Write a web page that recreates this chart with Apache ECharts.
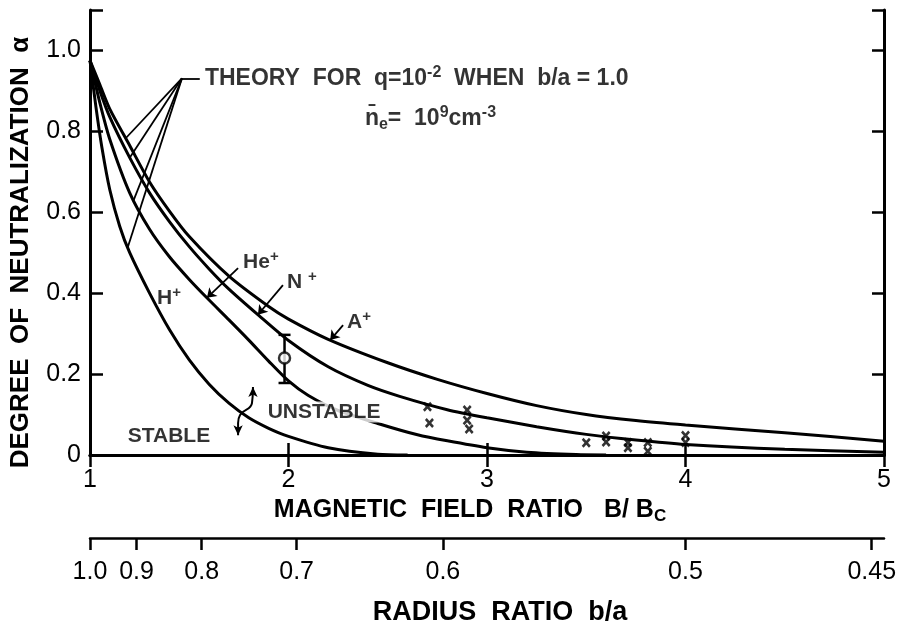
<!DOCTYPE html>
<html>
<head>
<meta charset="utf-8">
<script src="https://cdn.jsdelivr.net/npm/echarts@6/dist/echarts.min.js"></script>
<style>
  html, body { margin: 0; padding: 0; background: #fff; }
  #chart { width: 906px; height: 626px; }
</style>
</head>
<body>
<div id="chart"></div>
<script>
// theory curves: magnetic field ratio B/Bc -> degree of neutralization alpha
var hPlus = [[1, 0.975], [1.03, 0.86], [1.06, 0.76], [1.1, 0.655], [1.15, 0.565], [1.2, 0.5], [1.3, 0.4], [1.4, 0.31], [1.5, 0.235], [1.6, 0.175], [1.7, 0.128], [1.8, 0.092], [1.9, 0.066], [2.0, 0.046], [2.2, 0.018], [2.45, 0.002], [2.6, 0]]
var hePlus = [[1, 0.975], [1.05, 0.87], [1.1, 0.78], [1.2, 0.648], [1.3, 0.558], [1.4, 0.49], [1.5, 0.434], [1.6, 0.383], [1.7, 0.334], [1.8, 0.284], [1.9, 0.232], [2.0, 0.183], [2.1, 0.147], [2.25, 0.11], [2.45, 0.078], [2.65, 0.05], [2.8, 0.035], [3.0, 0.018], [3.2, 0.007], [3.45, 0.001], [3.6, 0]]
var nPlus = [[1, 0.975], [1.05, 0.9], [1.1, 0.835], [1.2, 0.735], [1.3, 0.648], [1.4, 0.577], [1.5, 0.515], [1.6, 0.46], [1.7, 0.41], [1.85, 0.345], [2.0, 0.283], [2.2, 0.218], [2.4, 0.172], [2.56, 0.145], [2.8, 0.112], [3.0, 0.092], [3.25, 0.07], [3.5, 0.051], [3.75, 0.037], [4.0, 0.026], [4.5, 0.014], [5.0, 0.007]]
var aPlus = [[1, 0.975], [1.05, 0.915], [1.1, 0.855], [1.2, 0.765], [1.3, 0.675], [1.4, 0.603], [1.5, 0.54], [1.7, 0.442], [1.9, 0.367], [2.0, 0.336], [2.2, 0.286], [2.5, 0.228], [2.75, 0.187], [3.0, 0.152], [3.25, 0.122], [3.5, 0.1], [3.75, 0.085], [4.0, 0.074], [4.5, 0.055], [5.0, 0.034]]

// measurements
var crossPoints = [[2.70, 0.119], [2.71, 0.079], [2.90, 0.111], [2.90, 0.086], [2.91, 0.064], [3.50, 0.030], [3.60, 0.047], [3.60, 0.032], [3.71, 0.031], [3.71, 0.018], [3.81, 0.031], [3.81, 0.009], [4.0, 0.048], [4.0, 0.031]]
var circlePoint = [[1.98, 0.24]]
var errorBar = [[1.98, 0.178, 0.297]]

// axis ticks
var fieldTicks = [1, 2, 3, 4, 5]
var alphaTicks = [0, 0.2, 0.4, 0.6, 0.8, 1.0]
var radiusTicks = [1.0, 0.9, 0.8, 0.7, 0.6, 0.5, 0.45]
var radiusLabels = ['1.0', '0.9', '0.8', '0.7', '0.6', '0.5', '0.45']

var FONT = 'Liberation Sans'
var INK = '#000'

// B/Bc = (b/a)^-2
var radiusAsField = radiusTicks.map(function (r) { return 1 / (r * r) })

function yAt (curve, x) {
  for (var i = 1; i < curve.length; i++) {
    if (x <= curve[i][0]) {
      var a = curve[i - 1], b = curve[i]
      return a[1] + (b[1] - a[1]) * (x - a[0]) / (b[0] - a[0])
    }
  }
  return curve[curve.length - 1][1]
}

// annotation anchors (data space)
var theoryVertex = [1.463, 0.931]
var pointerX = { a: 1.18, n: 1.2, he: 1.22, h: 1.19 }
var arrowFrom = { he: [1.746, 0.462], n: [1.972, 0.42], a: [2.275, 0.321] }
var arrowTo = { he: 1.589, n: 1.846, a: 2.21 }
var squiggle = [[1.821, 0.168], [1.816, 0.128], [1.756, 0.099], [1.746, 0.079], [1.746, 0.049]]

var textSpots = [
  { at: [1.579, 0.931], text: '{b|THEORY  FOR  q=10}{t|-2}{b|  WHEN  b/a = 1.0}' },
  { at: [2.385, 0.832], text: '{b|n\u0304}{d|e}{b|=  10}{t|9}{b|cm}{t|-3}' },
  { at: [1.771, 0.477], text: '{a|He}{s|+}' },
  { at: [1.992, 0.427], text: '{a|N }{s|+}' },
  { at: [2.295, 0.328], text: '{a|A}{s|+}' },
  { at: [1.338, 0.388], text: '{a|H}{s|+}' },
  { at: [1.19, 0.047], text: '{a|STABLE}' },
  { at: [1.88, 0.106], text: '{w|UNSTABLE}' }
]

function seg (p, q, tip) {
  return [{ coord: p, symbol: 'none' }, { coord: q, symbol: tip ? 'arrow' : 'none' }]
}

function curveSeries (name, data, marks) {
  return {
    name: name,
    type: 'line',
    data: data,
    smooth: 0.25,
    showSymbol: false,
    silent: true,
    animation: false,
    lineStyle: { color: INK, width: 3 },
    markLine: {
      silent: true,
      animation: false,
      symbolSize: 9,
      lineStyle: { color: INK, width: 1.8, type: 'solid' },
      label: { show: false },
      data: marks
    },
    z: 3
  }
}

var chart = echarts.init(document.getElementById('chart'))

var tickLabel = { color: INK, fontFamily: FONT, fontSize: 25 }
var bold = function (size) { return { fontFamily: FONT, fontWeight: 'bold', fontSize: size, color: INK } }

chart.setOption({
  backgroundColor: '#fff',
  animation: false,
  grid: { left: 90, right: 22, top: 10, bottom: 171, outerBoundsMode: 'none', containLabel: false },
  xAxis: [
    {
      type: 'value', min: 1, max: 5, interval: 1, position: 'bottom',
      name: '{a|MAGNETIC  FIELD  RATIO   B/ B}{c|C}',
      nameLocation: 'middle', nameGap: 40,
      nameTextStyle: {
        padding: [0, 34, 0, 0],
        rich: {
          a: bold(25),
          c: Object.assign(bold(17), { verticalAlign: 'bottom', padding: [12, 0, 0, 0] })
        }
      },
      axisLine: { lineStyle: { color: INK, width: 3 } },
      axisTick: { inside: true, length: 12, lineStyle: { color: INK, width: 2.5 } },
      axisLabel: Object.assign({ margin: 13, formatter: function (v) { return fieldTicks.indexOf(v) >= 0 ? String(v) : '' } }, tickLabel),
      splitLine: { show: false }
    },
    {
      type: 'value', min: 1, max: 5, interval: 1, position: 'top',
      axisLine: { lineStyle: { color: INK, width: 3 } },
      axisTick: { inside: true, length: 12, lineStyle: { color: INK, width: 2.5 } },
      axisLabel: { show: false },
      splitLine: { show: false }
    },
    {
      type: 'value', min: 1, max: 5, position: 'bottom', offset: 83,
      name: 'RADIUS  RATIO  b/a',
      nameLocation: 'middle', nameGap: 61,
      nameTextStyle: Object.assign({ padding: [0, 0, 0, 26] }, bold(27)),
      axisLine: { lineStyle: { color: INK, width: 2.5 } },
      axisTick: { customValues: radiusAsField, inside: false, length: 12, lineStyle: { color: INK, width: 2.5 } },
      axisLabel: Object.assign({
        customValues: radiusAsField,
        margin: 22,
        formatter: function (v) {
          var r = 1 / Math.sqrt(v), best = 0
          for (var i = 1; i < radiusTicks.length; i++) {
            if (Math.abs(radiusTicks[i] - r) < Math.abs(radiusTicks[best] - r)) best = i
          }
          return radiusLabels[best]
        }
      }, tickLabel),
      splitLine: { show: false }
    }
  ],
  yAxis: [
    {
      type: 'value', min: 0, max: 1.1, interval: 0.2, position: 'left',
      name: 'DEGREE  OF  NEUTRALIZATION  \u03b1',
      nameLocation: 'middle', nameGap: 56,
      nameTextStyle: Object.assign({ padding: [0, 40, 0, 0] }, bold(26)),
      axisLine: { lineStyle: { color: INK, width: 3 } },
      axisTick: { inside: true, length: 13, lineStyle: { color: INK, width: 2.5 } },
      axisLabel: Object.assign({
        margin: 9,
        formatter: function (v) {
          for (var i = 0; i < alphaTicks.length; i++) {
            if (Math.abs(alphaTicks[i] - v) < 1e-6) return v === 0 ? '0' : v.toFixed(1)
          }
          return ''
        }
      }, tickLabel),
      splitLine: { show: false }
    },
    {
      type: 'value', min: 0, max: 1.1, interval: 0.2, position: 'right',
      axisLine: { lineStyle: { color: INK, width: 3 } },
      axisTick: { inside: true, length: 12, lineStyle: { color: INK, width: 2.5 } },
      axisLabel: { show: false },
      splitLine: { show: false }
    }
  ],
  series: [
    curveSeries('H+', hPlus, [
      seg(theoryVertex, [pointerX.h, yAt(hPlus, pointerX.h)], false)
    ]),
    curveSeries('He+', hePlus, [
      seg(theoryVertex, [pointerX.he, yAt(hePlus, pointerX.he)], false),
      seg(arrowFrom.he, [arrowTo.he, yAt(hePlus, arrowTo.he)], true)
    ]),
    curveSeries('N+', nPlus, [
      seg(theoryVertex, [pointerX.n, yAt(nPlus, pointerX.n)], false),
      seg(arrowFrom.n, [arrowTo.n, yAt(nPlus, arrowTo.n)], true)
    ]),
    curveSeries('A+', aPlus, [
      seg(theoryVertex, [pointerX.a, yAt(aPlus, pointerX.a)], false),
      seg(arrowFrom.a, [arrowTo.a, yAt(aPlus, arrowTo.a)], true),
      seg(theoryVertex, [theoryVertex[0] + 0.09, theoryVertex[1]], false)
    ]),
    {
      // stable / unstable double arrow
      type: 'line',
      data: squiggle.map(function (p, i) {
        var last = i === squiggle.length - 1
        return {
          value: p,
          symbol: i === 0 || last ? 'arrow' : 'none',
          symbolRotate: last ? 180 : 0,
          symbolSize: [7, 10]
        }
      }),
      smooth: 0.5,
      silent: true,
      lineStyle: { color: INK, width: 2 },
      itemStyle: { color: INK },
      z: 4
    },
    {
      type: 'custom',
      data: errorBar,
      encode: { x: 0, y: [1, 2] },
      silent: true,
      z: 4,
      renderItem: function (params, api) {
        var x = api.value(0)
        var lo = api.coord([x, api.value(1)])
        var hi = api.coord([x, api.value(2)])
        var st = { stroke: INK, lineWidth: 2.5 }
        return {
          type: 'group',
          children: [
            { type: 'line', shape: { x1: lo[0], y1: lo[1], x2: hi[0], y2: hi[1] }, style: st },
            { type: 'line', shape: { x1: lo[0] - 6, y1: lo[1], x2: lo[0] + 6, y2: lo[1] }, style: st },
            { type: 'line', shape: { x1: hi[0] - 6, y1: hi[1], x2: hi[0] + 6, y2: hi[1] }, style: st }
          ]
        }
      }
    },
    {
      type: 'scatter',
      data: circlePoint,
      symbol: 'circle',
      symbolSize: 11,
      silent: true,
      itemStyle: { color: '#fff', borderColor: INK, borderWidth: 2.5 },
      z: 6
    },
    {
      type: 'scatter',
      data: crossPoints,
      symbol: 'path://M0,2L2,0L5,3L8,0L10,2L7,5L10,8L8,10L5,7L2,10L0,8L3,5Z',
      symbolSize: [9, 10],
      silent: true,
      itemStyle: { color: INK },
      z: 6
    },
    {
      type: 'scatter',
      symbolSize: 0,
      silent: true,
      z: 10,
      data: textSpots.map(function (s) { return { value: s.at, label: { formatter: s.text } } }),
      label: {
        show: true,
        position: 'right',
        distance: 0,
        rich: {
          a: Object.assign(bold(21), { lineHeight: 26 }),
          s: Object.assign(bold(15), { verticalAlign: 'top', padding: [0, 0, 8, 0] }),
          b: Object.assign(bold(23), { lineHeight: 28 }),
          t: Object.assign(bold(16), { verticalAlign: 'top', padding: [0, 0, 9, 0] }),
          d: Object.assign(bold(16), { verticalAlign: 'bottom', padding: [10, 0, 0, 0] }),
          w: Object.assign(bold(21), { lineHeight: 24, backgroundColor: '#fff', padding: [0, 3, 0, 3] })
        }
      }
    }
  ]
})
</script>
</body>
</html>
